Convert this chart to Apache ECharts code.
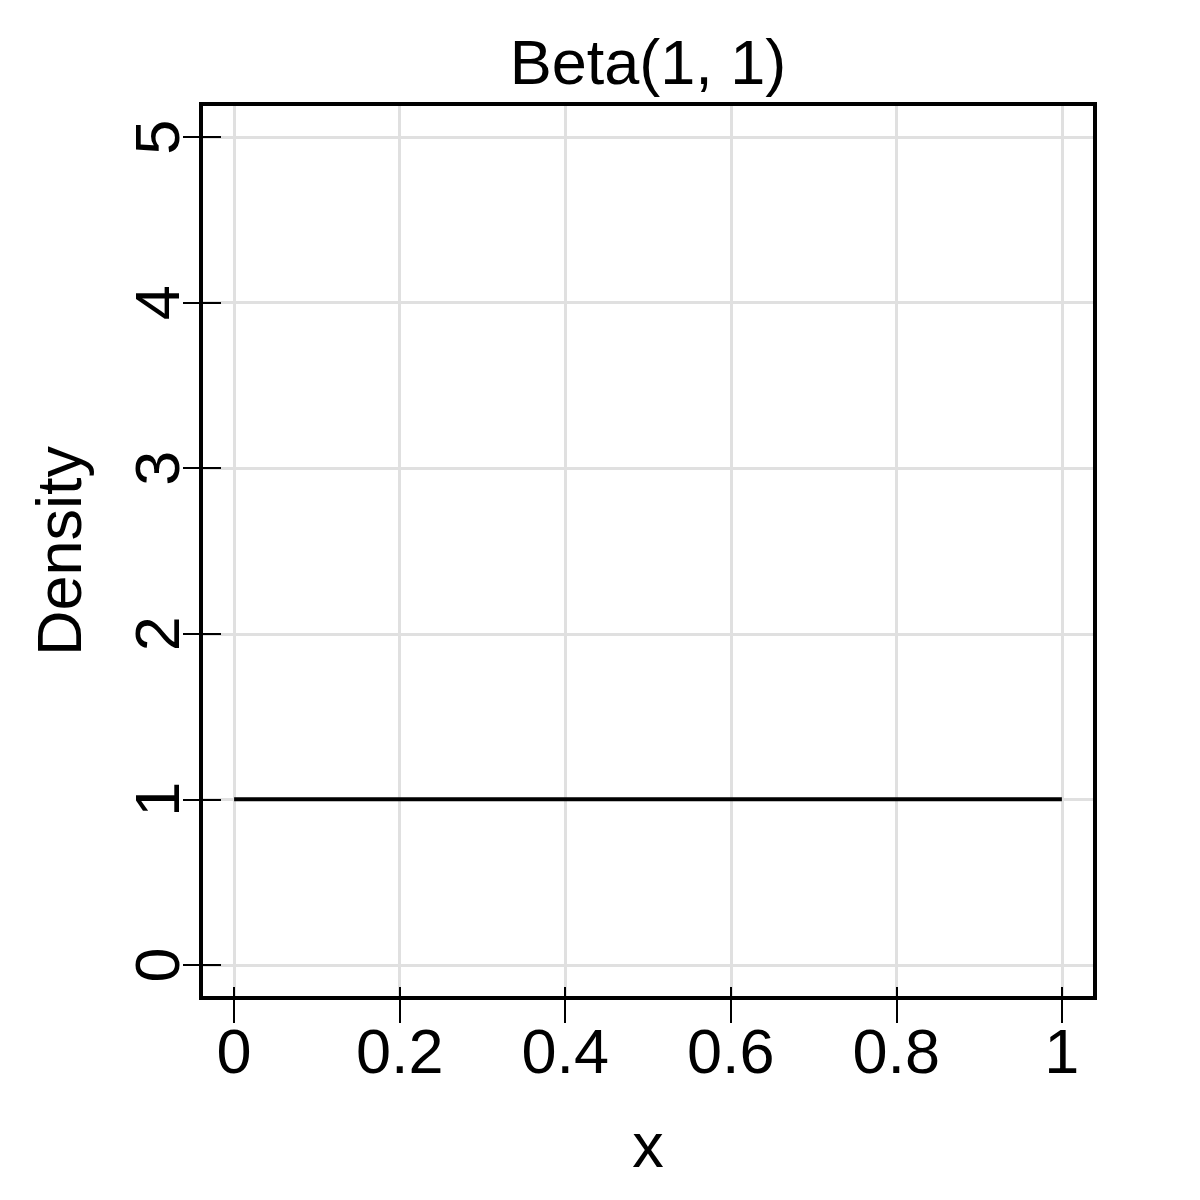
<!DOCTYPE html>
<html>
<head>
<meta charset="utf-8">
<script src="https://cdn.jsdelivr.net/npm/echarts@6/dist/echarts.min.js"></script>
<style>
  html, body { margin: 0; padding: 0; background: #fff; }
  #main { width: 1200px; height: 1200px; }
</style>
</head>
<body>
<div id="main"></div>
<script>
// Beta(1, 1) density curve
var xValues = [0, 0.25, 0.5, 0.75, 1];
var density = [1, 1, 1, 1, 1];
var xTicks = [0, 0.2, 0.4, 0.6, 0.8, 1];
var yTicks = [0, 1, 2, 3, 4, 5];

var font = "Liberation Sans, Arial, sans-serif";
var fontSize = 63;

var frameLine = { show: true, onZero: false, lineStyle: { color: "#000", width: 4, cap: "square" } };
var grayGrid = { show: true, lineStyle: { color: "#e0e0e0", width: 3 } };

var option = {
  animation: false,
  backgroundColor: "#fff",
  title: {
    text: "Beta(1, 1)",
    left: 648,
    textAlign: "center",
    top: 35,
    padding: 0,
    textStyle: { fontFamily: font, fontSize: fontSize, fontWeight: "normal", color: "#000" },
  },
  grid: { left: 201, right: 105, top: 104, bottom: 202 },
  xAxis: [
    {
      type: "value",
      position: "bottom",
      min: -0.04,
      max: 1.04,
      name: "x",
      nameLocation: "middle",
      nameGap: 120,
      nameTextStyle: { fontFamily: font, fontSize: fontSize, color: "#000" },
      axisLine: frameLine,
      axisTick: { show: true, length: 25, customValues: xTicks, lineStyle: { color: "#000", width: 2 } },
      axisLabel: { customValues: xTicks, margin: 26, fontFamily: font, fontSize: fontSize, color: "#000" },
      splitLine: grayGrid,
    },
    {
      // short ticks pointing into the box
      type: "value",
      position: "bottom",
      min: -0.04,
      max: 1.04,
      axisLine: { show: false, onZero: false },
      axisTick: { show: true, inside: true, length: 11, customValues: xTicks, lineStyle: { color: "#000", width: 2 } },
      axisLabel: { show: false },
      splitLine: { show: false },
    },
    {
      type: "value",
      position: "top",
      min: -0.04,
      max: 1.04,
      axisLine: frameLine,
      axisTick: { show: false },
      axisLabel: { show: false },
      splitLine: { show: false },
    },
  ],
  yAxis: [
    {
      type: "value",
      position: "left",
      min: -0.2,
      max: 5.2,
      name: "Density",
      nameLocation: "middle",
      nameGap: 106,
      nameTextStyle: { fontFamily: font, fontSize: fontSize, color: "#000" },
      axisLine: frameLine,
      axisTick: { show: true, length: 18, customValues: yTicks, lineStyle: { color: "#000", width: 2 } },
      axisLabel: { customValues: yTicks, rotate: 90, margin: 8, fontFamily: font, fontSize: fontSize, color: "#000" },
      splitLine: grayGrid,
    },
    {
      type: "value",
      position: "left",
      min: -0.2,
      max: 5.2,
      axisLine: { show: false, onZero: false },
      axisTick: { show: true, inside: true, length: 20, customValues: yTicks, lineStyle: { color: "#000", width: 2 } },
      axisLabel: { show: false },
      splitLine: { show: false },
    },
    {
      type: "value",
      position: "right",
      min: -0.2,
      max: 5.2,
      axisLine: frameLine,
      axisTick: { show: false },
      axisLabel: { show: false },
      splitLine: { show: false },
    },
  ],
  series: [
    {
      name: "Beta(1, 1)",
      type: "line",
      xAxisIndex: 0,
      yAxisIndex: 0,
      showSymbol: false,
      lineStyle: { color: "#000", width: 4 },
      data: xValues.map(function (x, i) { return [x, density[i]]; }),
    },
  ],
};

var myChart = echarts.init(document.getElementById("main"));
myChart.setOption(option);
</script>
</body>
</html>
